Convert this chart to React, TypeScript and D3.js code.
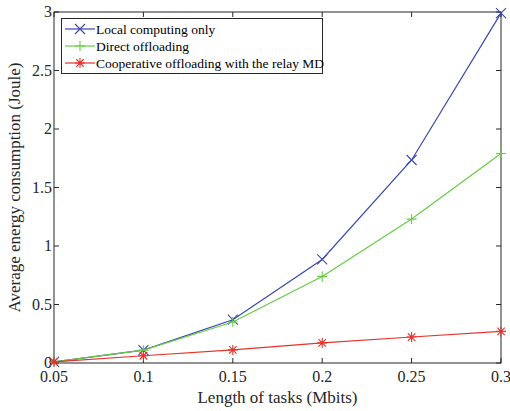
import React from 'react';
import * as d3 from 'd3';

const taskLengths = [0.05, 0.1, 0.15, 0.2, 0.25, 0.3];
const localOnly = [0.01, 0.11, 0.37, 0.885, 1.735, 2.99];
const directOffload = [0.01, 0.11, 0.35, 0.74, 1.23, 1.79];
const cooperative = [0.01, 0.062, 0.112, 0.172, 0.222, 0.27];
const xTicks = [0.05, 0.1, 0.15, 0.2, 0.25, 0.3];
const yTicks = [0, 0.5, 1, 1.5, 2, 2.5, 3];

const seriesList = [
  { name: 'Local computing only', values: localOnly, color: '#3a48b0', marker: 'x' },
  { name: 'Direct offloading', values: directOffload, color: '#66cc44', marker: '+' },
  { name: 'Cooperative offloading with the relay MD', values: cooperative, color: '#e5332a', marker: '*' },
];

const W = 510, H = 411;
const left = 54, right = 501, top = 12, bottom = 363;
const font = "'Times New Roman', Times, 'Liberation Serif', Tinos, 'DejaVu Serif', 'Noto Serif', serif";

const Marker = ({ kind, x, y, color }: { kind: string; x: number; y: number; color: string }) => {
  const s = 5;
  const plus = `M${x - s},${y}L${x + s},${y}M${x},${y - s}L${x},${y + s}`;
  const d = s * 0.75;
  const cross = `M${x - d},${y - d}L${x + d},${y + d}M${x - d},${y + d}L${x + d},${y - d}`;
  const path = kind === '+' ? plus : kind === 'x' ? `M${x - s},${y - s}L${x + s},${y + s}M${x - s},${y + s}L${x + s},${y - s}` : plus + cross;
  return <path d={path} stroke={color} strokeWidth={1.1} fill="none" />;
};

const App = () => {
  const x = d3.scaleLinear().domain([0.05, 0.3]).range([left, right]);
  const y = d3.scaleLinear().domain([0, 3]).range([bottom, top]);
  const line = d3.line<number>().x((_, i) => x(taskLengths[i])).y(v => y(v));
  const tick = 5;

  return (
    <svg width={W} height={H} style={{ position: 'absolute', left: 0, top: 0, background: '#fff', fontFamily: font }}>
      <rect x={left} y={top} width={right - left} height={bottom - top} fill="#fff" stroke="#262626" strokeWidth={1} />
      {xTicks.map(t => (
        <g key={'x' + t}>
          <line x1={x(t)} x2={x(t)} y1={bottom} y2={bottom - tick} stroke="#262626" />
          <line x1={x(t)} x2={x(t)} y1={top} y2={top + tick} stroke="#262626" />
          <text x={x(t)} y={bottom + 19} textAnchor="middle" fontSize={16} fill="#262626">{String(t)}</text>
        </g>
      ))}
      {yTicks.map(t => (
        <g key={'y' + t}>
          <line x1={left} x2={left + tick} y1={y(t)} y2={y(t)} stroke="#262626" />
          <line x1={right} x2={right - tick} y1={y(t)} y2={y(t)} stroke="#262626" />
          <text x={left - 2} y={y(t) + 5} textAnchor="end" fontSize={16} fill="#262626">{String(t)}</text>
        </g>
      ))}
      <text x={(left + right) / 2} y={403} textAnchor="middle" fontSize={17} fill="#262626">Length of tasks (Mbits)</text>
      <text transform={`translate(20,${(top + bottom) / 2}) rotate(-90)`} textAnchor="middle" fontSize={17} fill="#262626">Average energy consumption (Joule)</text>
      {seriesList.map(s => (
        <g key={s.name}>
          <path d={line(s.values) || ''} stroke={s.color} strokeWidth={1.2} fill="none" />
          {s.values.map((v, i) => (
            <Marker key={i} kind={s.marker} x={x(taskLengths[i])} y={y(v)} color={s.color} />
          ))}
        </g>
      ))}
      <g>
        <rect x={61.5} y={18.5} width={261} height={55} fill="#fff" stroke="#262626" strokeWidth={1} />
        {seriesList.map((s, i) => {
          const ly = 29 + i * 17;
          return (
            <g key={s.name}>
              <line x1={65} x2={95} y1={ly} y2={ly} stroke={s.color} strokeWidth={1.2} />
              <Marker kind={s.marker} x={80} y={ly} color={s.color} />
              <text x={96} y={ly + 4.5} fontSize={13.5} fill="#000">{s.name}</text>
            </g>
          );
        })}
      </g>
    </svg>
  );
};

export default App;
